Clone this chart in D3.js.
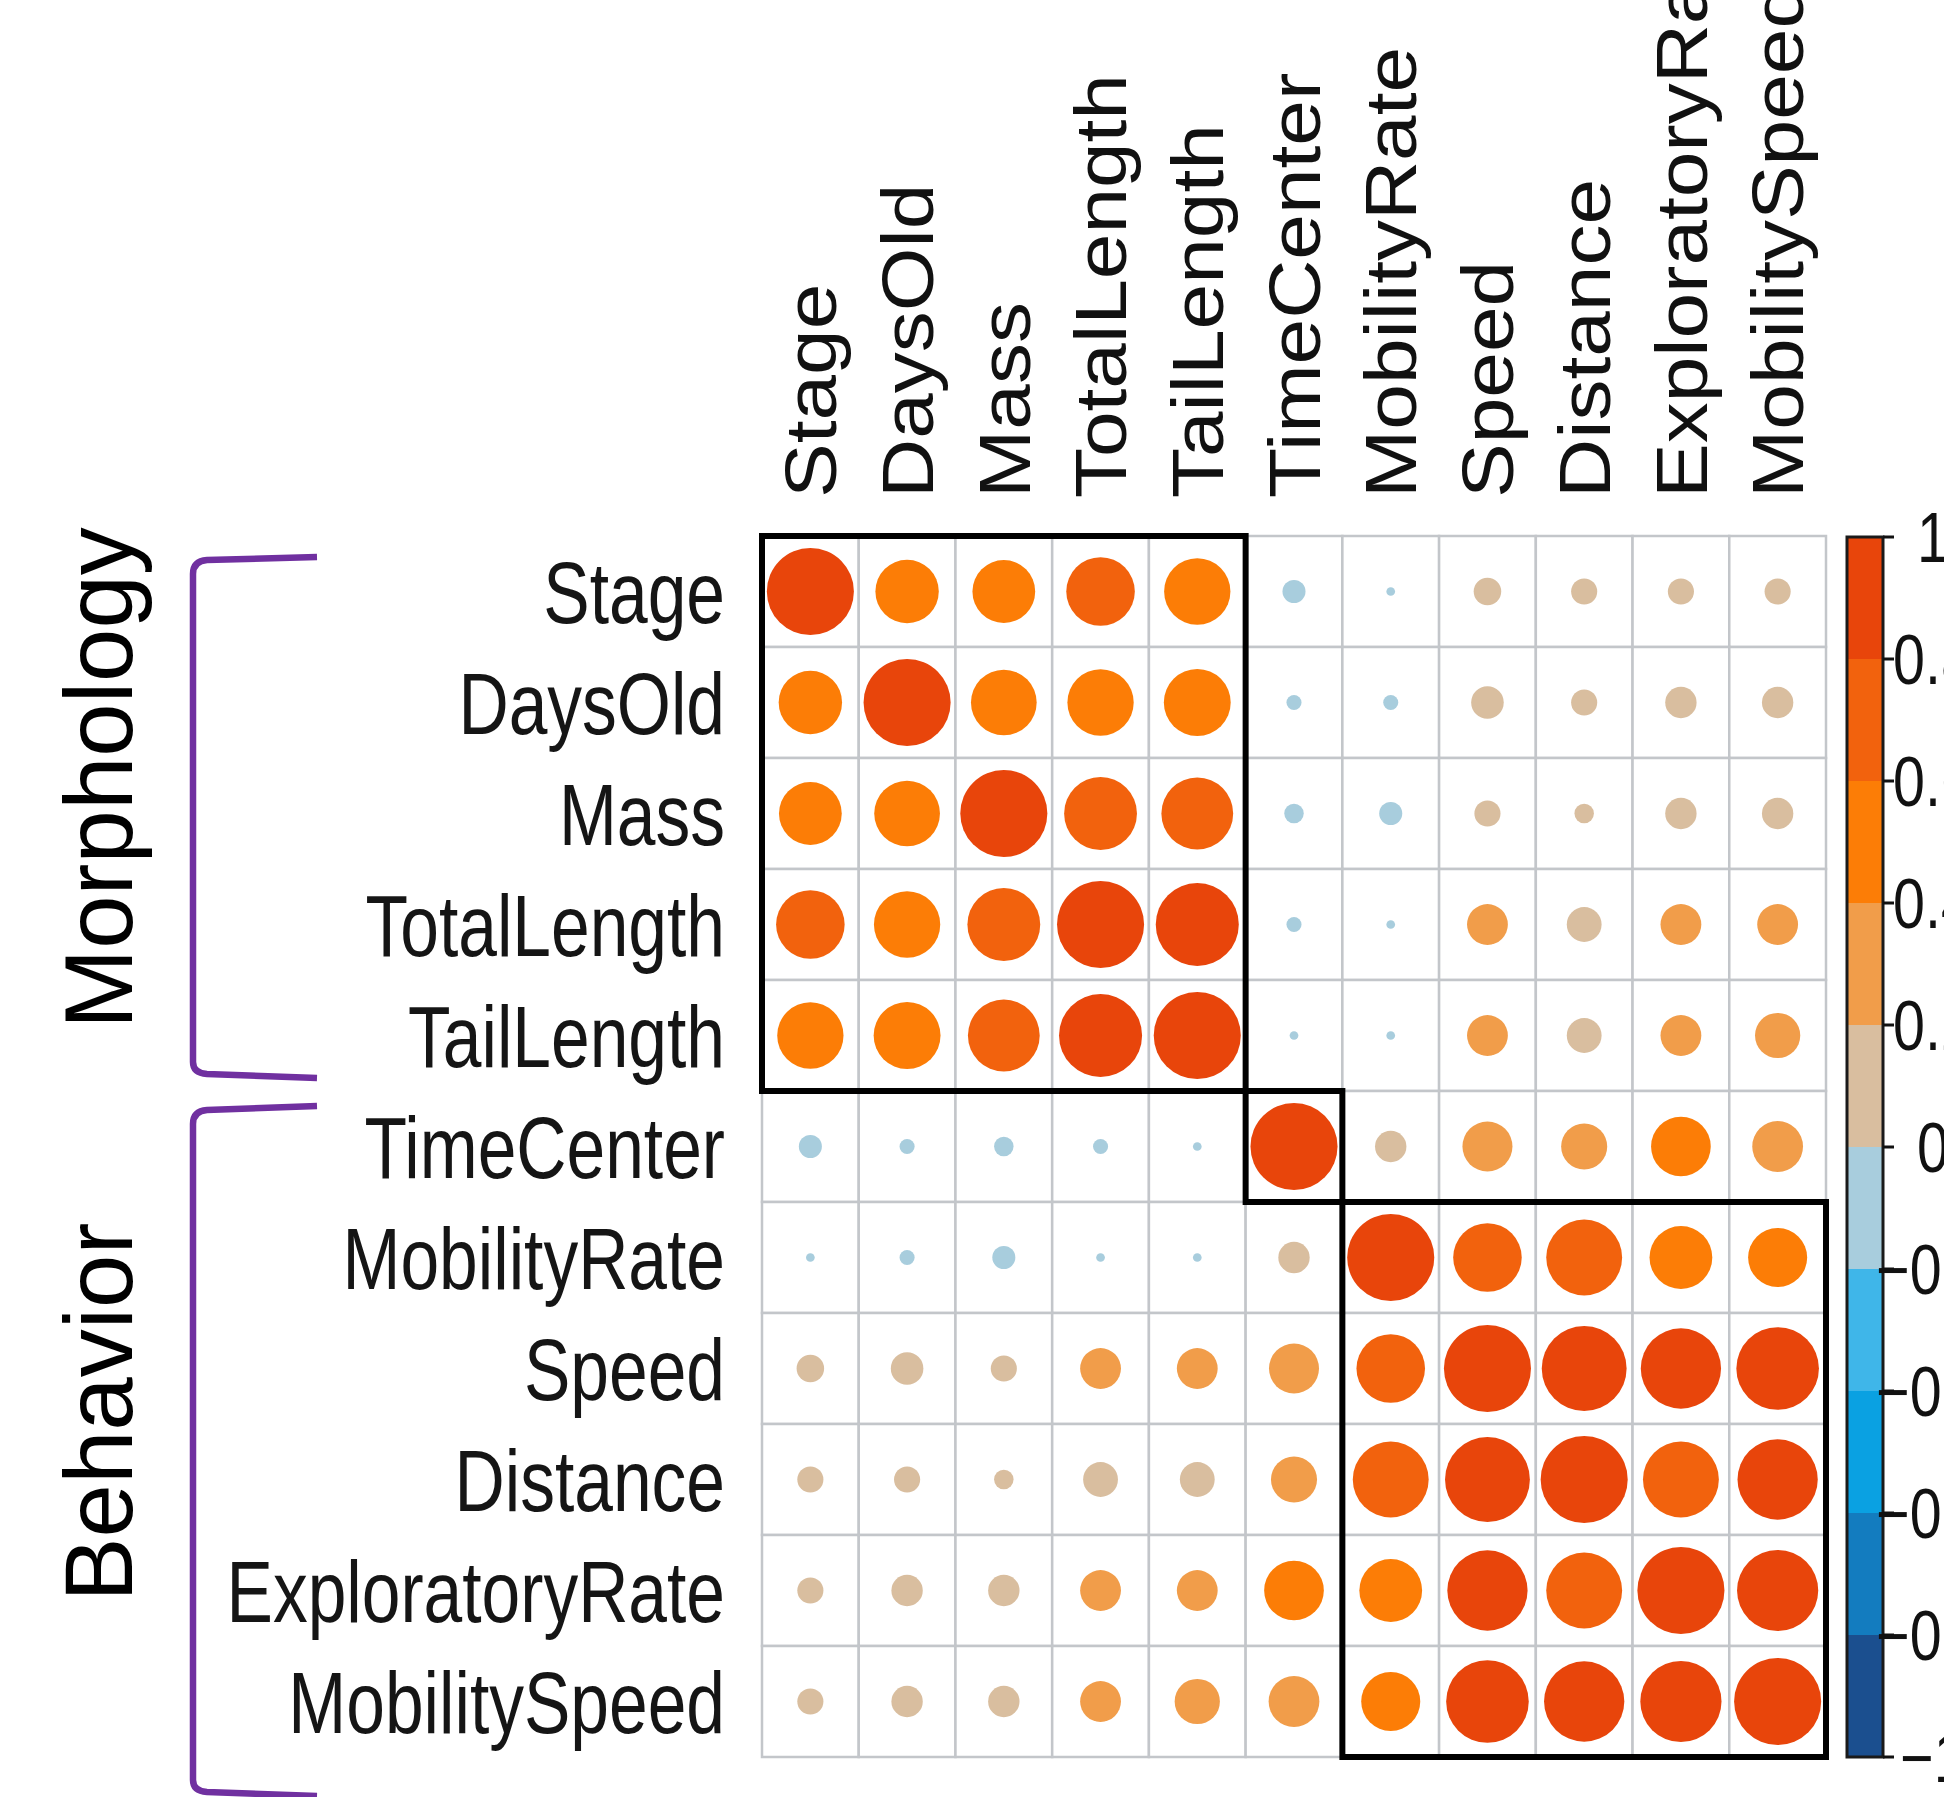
<!DOCTYPE html>
<html lang="en">
<head>
<meta charset="UTF-8">
<title>Correlation matrix - morphology and behavior</title>
<style>
  body { margin: 0; padding: 0; background: #fff; overflow: hidden; }
  svg { display: block; font-family: "Liberation Sans", Arial, sans-serif; }
</style>
</head>
<body>
<div id="chart"></div>
<script src="https://d3js.org/d3.v7.min.js"></script>
<script>
// variables, in matrix order
const vars = ["Stage", "DaysOld", "Mass", "TotalLength", "TailLength", "TimeCenter",
  "MobilityRate", "Speed", "Distance", "ExploratoryRate", "MobilitySpeed"];

// correlation rows
const rStage         = [1, 0.53, 0.52, 0.62, 0.58, -0.07, -0.01, 0.10, 0.09, 0.09, 0.09];
const rDaysOld       = [0.53, 1, 0.57, 0.58, 0.59, -0.03, -0.03, 0.14, 0.09, 0.13, 0.13];
const rMass          = [0.52, 0.57, 1, 0.70, 0.68, -0.05, -0.07, 0.09, 0.05, 0.13, 0.13];
const rTotalLength   = [0.62, 0.58, 0.70, 1, 0.91, -0.03, -0.01, 0.22, 0.16, 0.22, 0.22];
const rTailLength    = [0.58, 0.59, 0.68, 0.91, 1, -0.01, -0.01, 0.22, 0.16, 0.22, 0.27];
const rTimeCenter    = [-0.07, -0.03, -0.05, -0.03, -0.01, 1, 0.13, 0.33, 0.28, 0.47, 0.34];
const rMobilityRate  = [-0.01, -0.03, -0.07, -0.01, -0.01, 0.13, 1, 0.62, 0.76, 0.52, 0.46];
const rSpeed         = [0.10, 0.14, 0.09, 0.22, 0.22, 0.33, 0.62, 1, 0.95, 0.85, 0.90];
const rDistance      = [0.09, 0.09, 0.05, 0.16, 0.16, 0.28, 0.76, 0.95, 1, 0.76, 0.85];
const rExploratory   = [0.09, 0.13, 0.13, 0.22, 0.22, 0.47, 0.52, 0.85, 0.76, 1, 0.87];
const rMobilitySpeed = [0.09, 0.13, 0.13, 0.22, 0.27, 0.34, 0.46, 0.90, 0.85, 0.87, 1];

const corr = [rStage, rDaysOld, rMass, rTotalLength, rTailLength, rTimeCenter,
  rMobilityRate, rSpeed, rDistance, rExploratory, rMobilitySpeed];

// clusters boxed in black
const clusters = [["Stage", "TailLength"], ["TimeCenter", "TimeCenter"], ["MobilityRate", "MobilitySpeed"]];

// groups on the left
const groups = ["Morphology", "Behavior"];

// colour bins, from -1 up to 1
const palette = ["#1b4f8f", "#137cbf", "#0aa1e2", "#3fb6e9", "#a8cddd",
  "#d9be9f", "#f19d4a", "#fc7d06", "#f2620d", "#e8450b"];
const barTicks = [1, 0.8, 0.6, 0.4, 0.2, 0, -0.2, -0.4, -0.6, -0.8, -1];

const width = 1944, height = 1797;

const svg = d3.select("#chart").append("svg")
  .attr("width", width)
  .attr("height", height);

const x = d3.scaleBand().domain(vars).range([762, 1826]);
const y = d3.scaleBand().domain(vars).range([536, 1757]);
const color = d3.scaleQuantize().domain([-1, 1]).range(palette);
const radius = d3.scaleSqrt().domain([0, 1]).range([0, 0.45 * x.bandwidth()]);

const cells = [];
corr.forEach((row, i) => row.forEach((v, j) => cells.push({ row: vars[i], col: vars[j], v: v })));

// grid
svg.append("g").selectAll("rect")
  .data(cells)
  .enter().append("rect")
  .attr("x", d => x(d.col))
  .attr("y", d => y(d.row))
  .attr("width", x.bandwidth())
  .attr("height", y.bandwidth())
  .attr("fill", "#fff")
  .attr("stroke", "#c3c6ca")
  .attr("stroke-width", 2.5);

// circles
svg.append("g").selectAll("circle")
  .data(cells)
  .enter().append("circle")
  .attr("cx", d => x(d.col) + x.bandwidth() / 2)
  .attr("cy", d => y(d.row) + y.bandwidth() / 2)
  .attr("r", d => radius(Math.abs(d.v)))
  .attr("fill", d => color(d.v === 1 ? 0.999 : d.v));

// cluster boxes
svg.append("g").selectAll("rect")
  .data(clusters)
  .enter().append("rect")
  .attr("x", d => x(d[0]))
  .attr("y", d => y(d[0]))
  .attr("width", d => x(d[1]) + x.bandwidth() - x(d[0]))
  .attr("height", d => y(d[1]) + y.bandwidth() - y(d[0]))
  .attr("fill", "none")
  .attr("stroke", "#000")
  .attr("stroke-width", 6);

// row labels
svg.append("g").selectAll("text")
  .data(vars)
  .enter().append("text")
  .attr("transform", d => `translate(725,${y(d) + y.bandwidth() / 2}) scale(0.79,1)`)
  .attr("dy", "0.36em")
  .attr("text-anchor", "end")
  .attr("font-size", 88)
  .attr("fill", "#151515")
  .text(d => d);

// column labels
svg.append("g").selectAll("text")
  .data(vars)
  .enter().append("text")
  .attr("transform", d => `translate(${x(d) + x.bandwidth() / 2},498) rotate(-90) scale(1,0.87)`)
  .attr("dy", "0.36em")
  .attr("font-size", 82)
  .attr("fill", "#111")
  .text(d => d);

// colour bar
const bar = d3.scaleLinear().domain([-1, 1]).range([1757, 537]);
const barG = svg.append("g");
barG.selectAll("rect")
  .data(palette)
  .enter().append("rect")
  .attr("x", 1847)
  .attr("y", (d, i) => bar(-1 + (i + 1) * 0.2))
  .attr("width", 36)
  .attr("height", (d, i) => bar(-1 + i * 0.2) - bar(-1 + (i + 1) * 0.2))
  .attr("fill", d => d);
barG.append("rect")
  .attr("x", 1847).attr("y", bar(1))
  .attr("width", 36).attr("height", bar(-1) - bar(1))
  .attr("fill", "none").attr("stroke", "#1a1a1a").attr("stroke-width", 3);
barG.selectAll("line")
  .data(barTicks)
  .enter().append("line")
  .attr("x1", 1883).attr("x2", 1894)
  .attr("y1", d => bar(d)).attr("y2", d => bar(d))
  .attr("stroke", "#111").attr("stroke-width", 3);
barG.selectAll("text")
  .data(barTicks)
  .enter().append("text")
  .attr("transform", d => `translate(1933,${bar(d)}) scale(0.82,1)`)
  .attr("dy", "0.36em")
  .attr("text-anchor", "middle")
  .attr("font-size", 70)
  .attr("fill", "#111")
  .text(d => d3.format("")(d));

// group brackets
const bracketPaths = [
  "M317,557 L207,560 Q193,561 193,574 L193,1062 Q193,1073 207,1074 L317,1078",
  "M317,1106 L207,1110 Q193,1111 193,1124 L193,1780 Q193,1791 207,1792 L317,1796"
];
svg.append("g").selectAll("path")
  .data(bracketPaths)
  .enter().append("path")
  .attr("d", d => d)
  .attr("fill", "none")
  .attr("stroke", "#7030a0")
  .attr("stroke-width", 6.5);

// group titles
const groupCenters = [778, 1412];
svg.append("g").selectAll("text")
  .data(groups)
  .enter().append("text")
  .attr("transform", (d, i) => `translate(132,${groupCenters[i]}) rotate(-90)`)
  .attr("text-anchor", "middle")
  .attr("font-size", 96)
  .attr("fill", "#000")
  .text(d => d);
</script>
</body>
</html>
